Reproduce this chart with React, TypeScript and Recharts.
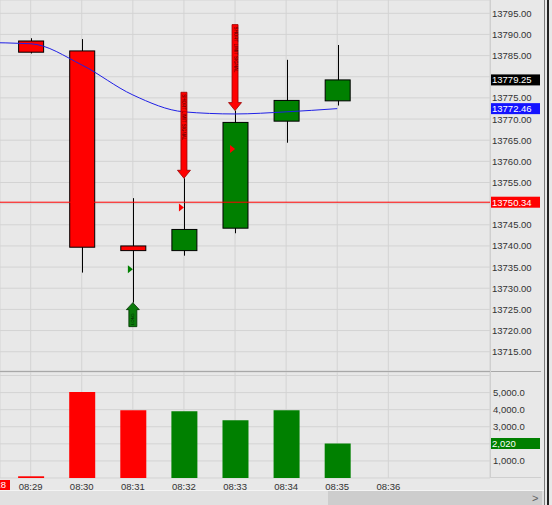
import React from 'react';
import { ComposedChart, Bar, Line, Scatter, XAxis, YAxis, CartesianGrid, ReferenceLine, Cell } from 'recharts';

const times = ['08:28', '08:29', '08:30', '08:31', '08:32', '08:33', '08:34', '08:35', '08:36'];
const opens = [null, 13788.45, 13786.1, 13740.0, 13738.9, 13744.2, 13769.5, 13774.3, null];
const highs = [null, 13789.1, 13788.9, 13751.3, 13756.0, 13772.0, 13784.0, 13787.5, null];
const lows = [null, 13785.5, 13733.7, 13726.6, 13737.7, 13743.0, 13764.4, 13773.2, null];
const closes = [null, 13785.8, 13739.7, 13738.9, 13743.9, 13769.2, 13774.4, 13779.25, null];
const ema = [13788.1, 13787.8, 13782.8, 13775.7, 13771.7, 13771.2, 13771.7, 13772.46, null];
const volumes = [null, 100, 5040, 3970, 3910, 3380, 3970, 2020, null];

const priceTicks = [13715, 13720, 13725, 13730, 13735, 13740, 13745, 13750, 13755, 13760, 13765, 13770, 13775, 13780, 13785, 13790, 13795];
const volumeTicks = [0, 1000, 2000, 3000, 4000, 5000, 6000];
const slotTicks = [1, 2, 3, 4, 5, 6, 7, 8];

// signal arrows and fills
const shortSlots = [4, 5];
const shortPrices = [13756.0, 13772.0];
const longSlots = [3];
const longPrices = [13726.6];
const buyFillSlots = [3];
const buyFillPrices = [13734.5];
const sellFillSlots = [4, 5];
const sellFillPrices = [13749.1, 13762.9];

const stopLevel = 13750.34;
const lastClose = 13779.25;
const emaLast = 13772.46;
const priceTagLevels = [stopLevel, lastClose, emaLast];

const RED = '#ff0000';
const GREEN = '#008000';
const BG = '#e8e8e8';
const GRID = '#d3d3d3';
const FONT = '"Liberation Sans", Arial, sans-serif';

const priceRows = times.map((t, i) => ({
  x: i,
  range: highs[i] != null ? [lows[i], highs[i]] : null,
  open: opens[i],
  high: highs[i],
  low: lows[i],
  close: closes[i],
  ema: ema[i],
}));

const volRows = times.map((t, i) => ({ x: i, volume: volumes[i], up: closes[i] != null && opens[i] != null && closes[i]! >= opens[i]! }));

const shortRows = shortSlots.map((s, i) => ({ x: s, y: shortPrices[i] }));
const longRows = longSlots.map((s, i) => ({ x: s, y: longPrices[i] }));
const buyRows = buyFillSlots.map((s, i) => ({ x: s, y: buyFillPrices[i] }));
const sellRows = sellFillSlots.map((s, i) => ({ x: s, y: sellFillPrices[i] }));

const Candle = (props: any) => {
  const { x, y, width, height, payload } = props;
  if (payload.open == null) return null;
  const top = Math.min(y, y + height);
  const h = Math.abs(height);
  const py = (p: number) => top + ((payload.high - p) / (payload.high - payload.low)) * h;
  const cx = Math.round(x + width / 2) + 0.5;
  const up = payload.close >= payload.open;
  const bt = py(Math.max(payload.open, payload.close));
  const bb = py(Math.min(payload.open, payload.close));
  return (
    <g>
      <line x1={cx} x2={cx} y1={py(payload.high)} y2={py(payload.low)} stroke="#000" strokeWidth={1} />
      <rect x={x + 0.5} y={bt} width={width - 1} height={Math.max(bb - bt, 2)} fill={up ? GREEN : RED} stroke="#000" strokeWidth={1} />
    </g>
  );
};

const ShortArrow = (props: any) => {
  const { cx, cy } = props;
  const L = 86, hw = 6.5, sw = 3, hh = 8;
  const d = `M${cx},${cy} L${cx - hw},${cy - hh} L${cx - sw},${cy - hh} L${cx - sw},${cy - L} L${cx + sw},${cy - L} L${cx + sw},${cy - hh} L${cx + hw},${cy - hh} Z`;
  return (
    <g>
      <path d={d} fill={RED} stroke="#9a0000" strokeWidth={0.8} />
      <text transform={`translate(${cx},${cy - L + 2}) rotate(90)`} fontSize={4.5} fill="#3a0000" dominantBaseline="central" fontFamily={FONT}>
        SHORT LIMIT SIGNAL
      </text>
    </g>
  );
};

const LongArrow = (props: any) => {
  const { cx, cy } = props;
  const L = 24, hw = 6.5, sw = 4, hh = 7;
  const d = `M${cx},${cy} L${cx + hw},${cy + hh} L${cx + sw},${cy + hh} L${cx + sw},${cy + L} L${cx - sw},${cy + L} L${cx - sw},${cy + hh} L${cx - hw},${cy + hh} Z`;
  return (
    <g>
      <path d={d} fill="#0b7a0b" stroke="#003300" strokeWidth={0.8} />
      <text transform={`translate(${cx},${cy + L - 2}) rotate(-90)`} fontSize={4} fill="#002200" dominantBaseline="central" fontFamily={FONT}>
        LONG
      </text>
    </g>
  );
};

const fillMark = (color: string) => (props: any) => {
  const { cx, cy } = props;
  return <path d={`M${cx - 5},${cy - 4} L${cx},${cy} L${cx - 5},${cy + 4} Z`} fill={color} />;
};

const Tag = (props: any) => {
  const { viewBox, fill, text } = props;
  if (!viewBox) return null;
  const x = viewBox.x + viewBox.width;
  const y = viewBox.y;
  return (
    <g>
      <rect x={x} y={y - 5.5} width={50} height={11} fill={fill} />
      <text x={x + 2} y={y} dominantBaseline="central" fontSize={9.5} fill="#fff" fontFamily={FONT}>
        {text}
      </text>
    </g>
  );
};

// tick labels hidden behind the value tags
const PriceTick = (p: any) => {
  const v = Number(p.payload.value);
  if (priceTagLevels.some((l) => Math.abs(l - v) < 1.5)) return null;
  return (
    <text x={p.x} y={p.y} dominantBaseline="central" fontSize={9.5} fill="#333" fontFamily={FONT} textAnchor="start">
      {v.toFixed(2)}
    </text>
  );
};

const VolTick = (p: any) => {
  const v = Number(p.payload.value);
  if (v === 0 || v === 6000 || Math.abs(v - volumes[7]!) < 300) return null;
  return (
    <text x={p.x} y={p.y} dominantBaseline="central" fontSize={9.5} fill="#333" fontFamily={FONT} textAnchor="start">
      {v.toLocaleString('en-US', { minimumFractionDigits: 1, maximumFractionDigits: 1 })}
    </text>
  );
};

const TimeTick = (p: any) => (
  <text x={p.x} y={p.y + 8.5} dominantBaseline="central" fontSize={9.5} fill="#333" fontFamily={FONT} textAnchor="middle">
    {times[Number(p.payload.value)]}
  </text>
);

export default function App() {
  return (
    <div style={{ position: 'absolute', left: 0, top: 0, width: 552, height: 505, background: BG, overflow: 'hidden', fontFamily: FONT }}>
      <div style={{ position: 'absolute', left: 0, top: 0 }}>
        <ComposedChart width={552} height={371} data={priceRows} margin={{ top: 0, right: 8, bottom: 0, left: 0 }}>
          <CartesianGrid stroke={GRID} />
          <XAxis type="number" dataKey="x" domain={[0.4, 9.99]} allowDataOverflow ticks={slotTicks} hide />
          <YAxis
            orientation="right"
            domain={[13710.44, 13798.14]}
            allowDataOverflow
            ticks={priceTicks}
            interval={0}
            width={54}
            axisLine={false}
            tickLine={false}
            tickSize={0}
            tickMargin={2}
            tick={PriceTick}
          />
          <Bar dataKey="range" barSize={26} shape={Candle} isAnimationActive={false} />
          <Line dataKey="ema" type="monotone" stroke="#1f1fe6" strokeWidth={1} dot={false} activeDot={false} isAnimationActive={false} />
          <ReferenceLine y={stopLevel} stroke={RED} strokeWidth={1} label={<Tag fill={RED} text={stopLevel.toFixed(2)} />} />
          <ReferenceLine y={lastClose} stroke="none" label={<Tag fill="#000" text={lastClose.toFixed(2)} />} />
          <ReferenceLine y={emaLast} stroke="none" label={<Tag fill="#1414ff" text={emaLast.toFixed(2)} />} />
          <Scatter data={shortRows} dataKey="y" shape={ShortArrow} isAnimationActive={false} />
          <Scatter data={longRows} dataKey="y" shape={LongArrow} isAnimationActive={false} />
          <Scatter data={buyRows} dataKey="y" shape={fillMark(GREEN)} isAnimationActive={false} />
          <Scatter data={sellRows} dataKey="y" shape={fillMark(RED)} isAnimationActive={false} />
        </ComposedChart>
      </div>
      <div style={{ position: 'absolute', left: 0, top: 371 }}>
        <ComposedChart width={552} height={134} data={volRows} margin={{ top: 1, right: 8, bottom: 14, left: 0 }}>
          <CartesianGrid stroke={GRID} />
          <XAxis
            type="number"
            dataKey="x"
            domain={[0.4, 9.99]}
            allowDataOverflow
            ticks={slotTicks}
            interval={0}
            height={13}
            axisLine={false}
            tickLine={false}
            tickSize={0}
            tickMargin={0}
            tick={TimeTick}
          />
          <YAxis
            orientation="right"
            domain={[0, 6206]}
            allowDataOverflow
            ticks={volumeTicks}
            interval={0}
            width={54}
            axisLine={false}
            tickLine={false}
            tickSize={0}
            tickMargin={3}
            tick={VolTick}
          />
          <Bar dataKey="volume" barSize={26} isAnimationActive={false}>
            {volRows.map((r, i) => (
              <Cell key={i} fill={r.up ? GREEN : RED} />
            ))}
          </Bar>
          <ReferenceLine y={volumes[7]!} stroke="none" label={<Tag fill={GREEN} text={volumes[7]!.toLocaleString('en-US')} />} />
        </ComposedChart>
      </div>
      {/* pane frames */}
      <div style={{ position: 'absolute', left: 0, top: 371, width: 541, height: 1, background: '#a8a8a8' }} />
      <div style={{ position: 'absolute', left: 490, top: 0, width: 1, height: 478, background: '#cfcfcf' }} />
      <div style={{ position: 'absolute', left: 490, top: 477, width: 51, height: 1, background: '#cfcfcf' }} />
      {/* cut-off time marker */}
      <div style={{ position: 'absolute', left: 0, top: 480, width: 10, height: 11, background: RED, overflow: 'hidden' }}>
        <span style={{ position: 'absolute', right: 4, top: -1, color: '#fff', fontSize: 9.5, lineHeight: '12px', whiteSpace: 'nowrap' }}>08:28</span>
      </div>
      {/* scrollbar */}
      <div style={{ position: 'absolute', left: 0, top: 490, width: 544, height: 15, background: '#e1e1e1', borderTop: '1px solid #f4f4f4' }} />
      <div style={{ position: 'absolute', left: 328, top: 491, width: 214, height: 14, background: '#cdcdcd' }} />
      <div style={{ position: 'absolute', left: 532, top: 491, fontSize: 11, color: '#606060', lineHeight: '14px' }}>&gt;</div>
      {/* right edge */}
      <div style={{ position: 'absolute', left: 544, top: 0, width: 1, height: 505, background: '#7a7a7a' }} />
      <div style={{ position: 'absolute', left: 547, top: 0, width: 2, height: 505, background: '#222' }} />
    </div>
  );
}
